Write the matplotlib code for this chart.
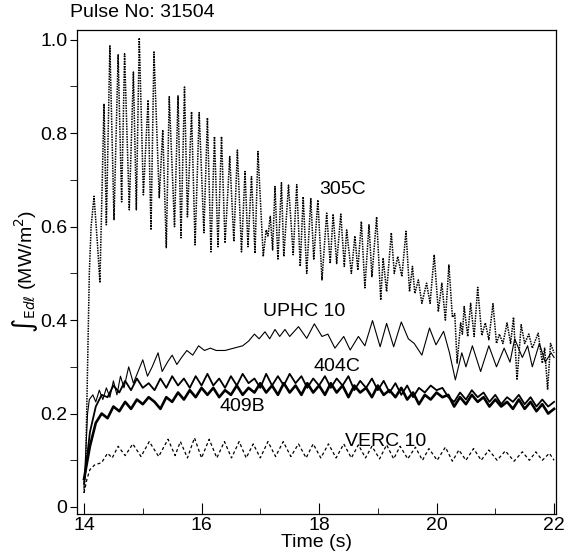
import numpy as np
import matplotlib
matplotlib.use("Agg")
import matplotlib.pyplot as plt
from matplotlib.ticker import MultipleLocator

plt.rcParams["font.family"] = ["Liberation Sans", "DejaVu Sans"]
plt.rcParams["mathtext.fontset"] = "dejavusans"

# --- data ---
t_305c = [14.00, 14.03, 14.06, 14.09, 14.12, 14.17, 14.23, 14.27, 14.34, 14.38,
          14.44, 14.51, 14.58, 14.64, 14.69, 14.77, 14.84, 14.89, 14.94, 15.01,
          15.09, 15.14, 15.19, 15.28, 15.34, 15.40, 15.45, 15.54, 15.60, 15.65,
          15.71, 15.76, 15.83, 15.89, 15.96, 16.04, 16.10, 16.16, 16.22, 16.28,
          16.34, 16.40, 16.48, 16.55, 16.61, 16.68, 16.74, 16.79, 16.85, 16.91,
          16.96, 17.05, 17.10, 17.13, 17.17, 17.21, 17.25, 17.30, 17.36, 17.40,
          17.48, 17.56, 17.62, 17.68, 17.73, 17.79, 17.86, 17.91, 17.98, 18.05,
          18.13, 18.19, 18.24, 18.30, 18.37, 18.43, 18.47, 18.55, 18.61, 18.66,
          18.72, 18.78, 18.85, 18.90, 18.98, 19.05, 19.09, 19.15, 19.23, 19.28,
          19.34, 19.41, 19.48, 19.54, 19.59, 19.63, 19.69, 19.75, 19.83, 19.89,
          19.96, 20.03, 20.09, 20.15, 20.21, 20.27, 20.31, 20.35, 20.41, 20.44,
          20.47, 20.53, 20.58, 20.64, 20.70, 20.77, 20.83, 20.89, 20.96, 21.02,
          21.07, 21.13, 21.20, 21.26, 21.31, 21.37, 21.44, 21.50, 21.57, 21.63,
          21.73, 21.80, 21.84, 21.89, 21.94, 22.00]
v_305c = [0.03, 0.10, 0.30, 0.50, 0.60, 0.665, 0.56, 0.48, 0.863, 0.604,
          0.987, 0.615, 0.968, 0.653, 0.970, 0.636, 0.931, 0.636, 1.004, 0.668,
          0.871, 0.593, 0.974, 0.662, 0.807, 0.555, 0.878, 0.600, 0.880, 0.576,
          0.899, 0.621, 0.846, 0.561, 0.844, 0.587, 0.833, 0.546, 0.793, 0.557,
          0.793, 0.565, 0.750, 0.568, 0.764, 0.546, 0.718, 0.557, 0.707, 0.543,
          0.761, 0.536, 0.593, 0.580, 0.622, 0.550, 0.686, 0.529, 0.694, 0.536,
          0.689, 0.540, 0.690, 0.515, 0.664, 0.500, 0.660, 0.529, 0.657, 0.486,
          0.629, 0.521, 0.627, 0.521, 0.627, 0.515, 0.593, 0.500, 0.580, 0.507,
          0.611, 0.469, 0.604, 0.493, 0.621, 0.443, 0.533, 0.461, 0.587, 0.500,
          0.536, 0.493, 0.590, 0.461, 0.515, 0.457, 0.486, 0.436, 0.479, 0.436,
          0.540, 0.418, 0.479, 0.400, 0.518, 0.406, 0.414, 0.308, 0.394, 0.370,
          0.429, 0.365, 0.436, 0.365, 0.470, 0.367, 0.394, 0.358, 0.435, 0.350,
          0.370, 0.350, 0.394, 0.350, 0.406, 0.272, 0.390, 0.350, 0.370, 0.340,
          0.372, 0.308, 0.340, 0.251, 0.350, 0.330]

t_uphc = [14.00, 14.06, 14.09, 14.15, 14.20, 14.26, 14.32, 14.38, 14.44, 14.50,
          14.56, 14.62, 14.68, 14.76, 14.84, 14.92, 15.00, 15.08, 15.16, 15.26,
          15.33, 15.42, 15.50, 15.58, 15.66, 15.75, 15.85, 15.95, 16.05, 16.15,
          16.25, 16.40, 16.55, 16.70, 16.80, 16.90, 16.98, 17.08, 17.16, 17.25,
          17.33, 17.42, 17.50, 17.65, 17.79, 17.92, 18.05, 18.15, 18.27, 18.42,
          18.53, 18.67, 18.78, 18.91, 19.04, 19.15, 19.27, 19.40, 19.52, 19.62,
          19.75, 19.88, 19.99, 20.12, 20.22, 20.32, 20.43, 20.50, 20.61, 20.75,
          20.89, 21.02, 21.15, 21.25, 21.33, 21.46, 21.55, 21.63, 21.75, 21.85,
          21.95, 22.00]
v_uphc = [0.04, 0.20, 0.23, 0.24, 0.225, 0.25, 0.23, 0.255, 0.235, 0.27,
          0.24, 0.28, 0.255, 0.30, 0.265, 0.29, 0.315, 0.28, 0.30, 0.33,
          0.29, 0.31, 0.325, 0.305, 0.32, 0.335, 0.325, 0.345, 0.335, 0.34,
          0.335, 0.335, 0.34, 0.345, 0.355, 0.37, 0.36, 0.375, 0.36, 0.38,
          0.365, 0.38, 0.365, 0.386, 0.361, 0.392, 0.365, 0.37, 0.34, 0.365,
          0.336, 0.365, 0.345, 0.399, 0.343, 0.393, 0.343, 0.396, 0.36, 0.35,
          0.325, 0.383, 0.347, 0.376, 0.33, 0.272, 0.33, 0.30, 0.345, 0.29,
          0.345, 0.30, 0.34, 0.31, 0.36, 0.32, 0.345, 0.30, 0.35, 0.31,
          0.33, 0.32]

# 404C and 409B sampled every 0.1 s from 14.0 to 22.0 s
t_probe = np.linspace(14.0, 22.0, 81)
v_404c = [0.05, 0.16, 0.215, 0.24, 0.235, 0.26, 0.245, 0.27, 0.25, 0.275,
          0.255, 0.265, 0.25, 0.275, 0.255, 0.28, 0.26, 0.275, 0.255, 0.28,
          0.26, 0.285, 0.26, 0.275, 0.255, 0.28, 0.26, 0.285, 0.265, 0.275,
          0.255, 0.285, 0.26, 0.28, 0.26, 0.285, 0.265, 0.28, 0.255, 0.275,
          0.26, 0.28, 0.255, 0.275, 0.26, 0.28, 0.25, 0.27, 0.255, 0.275,
          0.25, 0.27, 0.245, 0.265, 0.24, 0.26, 0.235, 0.255, 0.245, 0.26,
          0.25, 0.255, 0.235, 0.225, 0.245, 0.23, 0.25, 0.235, 0.245, 0.225,
          0.24, 0.22, 0.235, 0.225, 0.24, 0.22, 0.235, 0.215, 0.23, 0.215,
          0.225]
v_409b = [0.06, 0.13, 0.18, 0.20, 0.19, 0.215, 0.205, 0.225, 0.21, 0.23,
          0.22, 0.235, 0.225, 0.21, 0.235, 0.225, 0.245, 0.23, 0.25, 0.235,
          0.255, 0.24, 0.255, 0.235, 0.25, 0.24, 0.26, 0.24, 0.255, 0.245,
          0.265, 0.245, 0.26, 0.24, 0.265, 0.245, 0.26, 0.24, 0.265, 0.245,
          0.26, 0.24, 0.265, 0.245, 0.26, 0.235, 0.26, 0.245, 0.255, 0.235,
          0.26, 0.24, 0.25, 0.235, 0.255, 0.23, 0.245, 0.22, 0.24, 0.23,
          0.245, 0.235, 0.24, 0.215, 0.235, 0.22, 0.24, 0.225, 0.235, 0.215,
          0.23, 0.215, 0.225, 0.21, 0.23, 0.21, 0.225, 0.205, 0.22, 0.20,
          0.21]

t_verc = [14.00, 14.05, 14.10, 14.18, 14.30, 14.40, 14.48, 14.58, 14.70, 14.83,
          14.97, 15.11, 15.27, 15.43, 15.55, 15.64, 15.76, 15.88, 16.00, 16.13,
          16.26, 16.39, 16.51, 16.64, 16.76, 16.88, 17.00, 17.13, 17.26, 17.39,
          17.52, 17.65, 17.78, 17.90, 18.03, 18.16, 18.29, 18.42, 18.55, 18.67,
          18.79, 18.90, 19.03, 19.15, 19.27, 19.38, 19.51, 19.64, 19.76, 19.87,
          20.01, 20.15, 20.27, 20.38, 20.50, 20.63, 20.76, 20.89, 21.03, 21.17,
          21.32, 21.46, 21.58, 21.69, 21.80, 21.92, 22.00]
v_verc = [0.03, 0.06, 0.08, 0.09, 0.095, 0.115, 0.105, 0.13, 0.11, 0.135,
          0.108, 0.14, 0.108, 0.145, 0.11, 0.14, 0.105, 0.148, 0.105, 0.145,
          0.105, 0.14, 0.105, 0.14, 0.105, 0.135, 0.105, 0.14, 0.108, 0.14,
          0.108, 0.135, 0.105, 0.135, 0.105, 0.135, 0.105, 0.135, 0.105, 0.133,
          0.105, 0.13, 0.103, 0.133, 0.103, 0.13, 0.103, 0.128, 0.10, 0.125,
          0.10, 0.128, 0.098, 0.122, 0.10, 0.125, 0.10, 0.122, 0.10, 0.12,
          0.098, 0.118, 0.10, 0.118, 0.10, 0.115, 0.10]

labels = ["305C", "UPHC 10", "404C", "409B", "VERC 10"]
label_t = [18.00, 17.05, 17.90, 16.30, 18.44]
label_v = [0.679, 0.418, 0.300, 0.215, 0.140]

fs = 14

fig = plt.figure(figsize=(5.64, 5.57), dpi=100)
ax = fig.add_axes([0.1365, 0.0772, 0.849, 0.869])

ax.plot(t_305c, v_305c, color="k", linewidth=1.1, linestyle=(0, (1, 0.7)))
ax.plot(t_uphc, v_uphc, color="k", linewidth=0.8)
ax.plot(t_probe, v_404c, color="k", linewidth=1.3)
ax.plot(t_probe, v_409b, color="k", linewidth=1.9)
ax.plot(t_verc, v_verc, color="k", linewidth=0.9, linestyle=(0, (2.5, 2)))

for lab, tx, vy in zip(labels, label_t, label_v):
    ax.text(tx, vy, lab, ha="left", va="center", fontsize=fs)

ax.set_xlim(13.88, 22.03)
ax.set_ylim(-0.015, 1.021)
ax.set_xticks([14, 16, 18, 20, 22])
ax.xaxis.set_minor_locator(MultipleLocator(1))
ax.set_yticks([0, 0.2, 0.4, 0.6, 0.8, 1.0], ["0", "0.2", "0.4", "0.6", "0.8", "1.0"])
ax.yaxis.set_minor_locator(MultipleLocator(0.1))
ax.tick_params(axis="x", which="major", direction="in", length=8, labelsize=fs, pad=2)
ax.tick_params(axis="x", which="minor", direction="in", length=4)
ax.tick_params(axis="y", which="major", direction="out", length=5, labelsize=fs, pad=2)
ax.tick_params(axis="y", which="minor", direction="out", length=5)
for s in ax.spines.values():
    s.set_linewidth(0.9)

ax.set_xlabel("Time (s)", fontsize=fs, labelpad=0)
ax.set_ylabel("\u222b$_{\\mathrm{E}d\\ell}$ (MW/m$^2$)", fontsize=fs)
ax.yaxis.set_label_coords(-0.078, 0.5)
fig.text(0.124, 0.978, "Pulse No: 31504", ha="left", va="center", fontsize=fs)

fig.savefig("out.png", dpi=100)
